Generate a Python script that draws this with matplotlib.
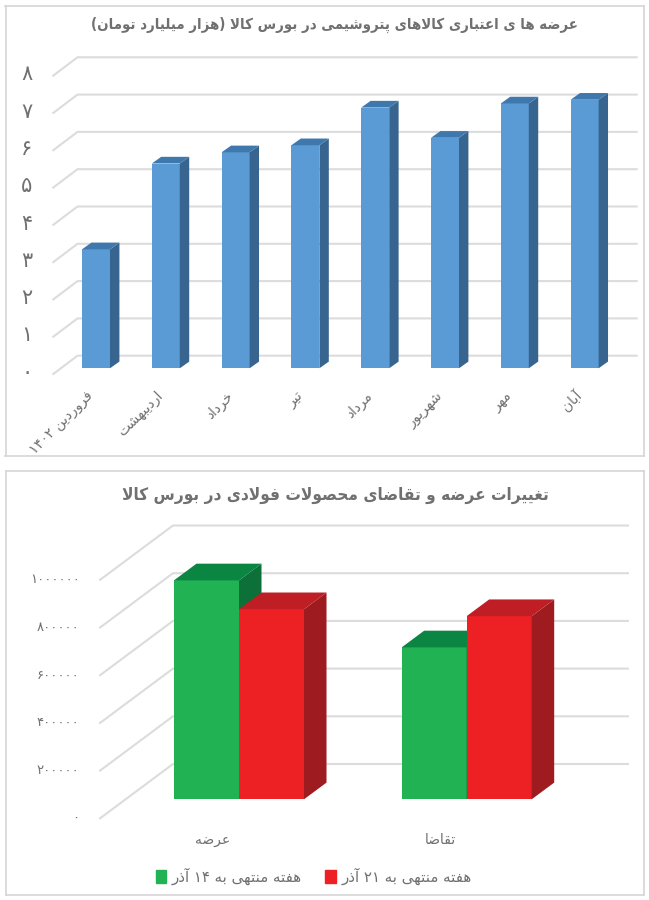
import matplotlib
matplotlib.use('Agg')
import matplotlib.pyplot as plt
from matplotlib.patches import Patch

plt.rcParams['font.family'] = ['DejaVu Sans']

# chart 1
title1 = 'عرضه ها ی اعتباری کالاهای پتروشیمی در بورس کالا (هزار میلیارد تومان)'
months = ['فروردین ۱۴۰۲', 'اردیبهشت', 'خرداد', 'تیر', 'مرداد', 'شهریور', 'مهر', 'آبان']
credit = [3.19, 5.49, 5.79, 5.98, 6.99, 6.18, 7.10, 7.20]
ticks1 = [0, 1, 2, 3, 4, 5, 6, 7, 8]

# chart 2
title2 = 'تغییرات عرضه و تقاضای محصولات فولادی در بورس کالا'
sides = ['عرضه', 'تقاضا']
week14 = [918000, 637000]
week21 = [797000, 768000]
name14 = 'هفته منتهی به ۱۴ آذر'
name21 = 'هفته منتهی به ۲۱ آذر'
ticks2 = [0, 200000, 400000, 600000, 800000, 1000000]

GREY = '#707070'
GRID = '#dcdcdc'

# matplotlib does no arabic shaping, so pick the presentation forms here
# letter: first codepoint, number of forms (isolated, final, initial, medial)
FORMS = {
    'ا': (0xFE8D, 2), 'آ': (0xFE81, 2), 'ب': (0xFE8F, 4), 'پ': (0xFB56, 4),
    'ت': (0xFE95, 4), 'ح': (0xFEA1, 4), 'خ': (0xFEA5, 4), 'د': (0xFEA9, 2),
    'ذ': (0xFEAB, 2), 'ر': (0xFEAD, 2), 'ز': (0xFEAF, 2), 'س': (0xFEB1, 4),
    'ش': (0xFEB5, 4), 'ص': (0xFEB9, 4), 'ض': (0xFEBD, 4), 'ع': (0xFEC9, 4),
    'غ': (0xFECD, 4), 'ف': (0xFED1, 4), 'ق': (0xFED5, 4), 'ک': (0xFB8E, 4),
    'ل': (0xFEDD, 4), 'م': (0xFEE1, 4), 'ن': (0xFEE5, 4), 'ه': (0xFEE9, 4),
    'و': (0xFEED, 2), 'ی': (0xFBFC, 4),
}
DIGITS = '۰۱۲۳۴۵۶۷۸۹'


def fa_digits(n):
    return ''.join(DIGITS[int(c)] for c in str(n))


def shape(text):
    out = []
    i = 0
    joined = False
    while i < len(text):
        c = text[i]
        if c == 'ل' and i + 1 < len(text) and text[i + 1] == 'ا':
            out.append(chr(0xFEFC if joined else 0xFEFB))
            joined = False
            i += 2
            continue
        if c not in FORMS:
            out.append(c)
            joined = False
            i += 1
            continue
        base, n = FORMS[c]
        next_ok = i + 1 < len(text) and text[i + 1] in FORMS and n == 4
        if joined and next_ok:
            form = 3
        elif next_ok:
            form = 2
        elif joined:
            form = 1
        else:
            form = 0
        out.append(chr(base + form))
        joined = next_ok
        i += 1
    # visual order, digit runs stay left to right
    res = []
    run = ''
    for c in reversed(out):
        if c in DIGITS:
            run = c + run
            continue
        res.append(run)
        run = ''
        res.append({'(': ')', ')': '('}.get(c, c))
    res.append(run)
    return ''.join(res)


def bar3d(ax, x, h, w, dx, dy, front, side, top):
    ax.bar(x, h, w, color=front, zorder=3)
    r = x + w / 2
    l = x - w / 2
    ax.fill([r, r + dx, r + dx, r], [0, dy, h + dy, h], color=side, lw=0, zorder=3)
    ax.fill([l, l + dx, r + dx, r], [h, h + dy, h + dy, h], color=top, lw=0, zorder=3)


def walls(ax, ticks, x_front, x_back, x_right, y_front, y_back):
    for t in ticks:
        ax.plot([x_front, x_back, x_right], [t + y_front, t + y_back, t + y_back],
                color=GRID, lw=1.5, zorder=1, solid_joinstyle='miter')


def frame(ax, xlim, ylim):
    ax.set_xlim(*xlim)
    ax.set_ylim(*ylim)
    ax.set_xticks([])
    ax.set_yticks([])
    for s in ax.spines.values():
        s.set_color('#d6d6d6')
        s.set_linewidth(1.2)


fig = plt.figure(figsize=(6.49, 9.0), dpi=100, facecolor='white')
W, H = 649, 900

# top chart
ax1 = fig.add_axes([5.5 / W, 1 - 456 / H, 638.5 / W, 450 / H])
frame(ax1, (-1.2966, 7.851), (-2.351, 9.713))
walls(ax1, ticks1, -0.612, -0.265, 7.746, -0.153, 0.338)
for i, v in enumerate(credit):
    bar3d(ax1, i, v, 0.401, 0.135, 0.18, '#5b9bd5', '#38658f', '#3f78ac')
for t in ticks1:
    ax1.text(-0.99, t - 0.12, fa_digits(t), ha='center', va='center', fontsize=15, color=GREY)
for i, m in enumerate(months):
    ax1.text(i - 0.07, -0.68, shape(m), rotation=45, rotation_mode='anchor',
             ha='right', va='center', fontsize=10, color=GREY)
ax1.text(0.5145, 0.957, shape(title1), transform=ax1.transAxes, ha='center', va='center',
         fontsize=10.7, fontweight='bold', fontstretch='condensed', color=GREY)

# bottom chart
ax2 = fig.add_axes([5.5 / W, 1 - 895 / H, 638.5 / W, 424 / H])
frame(ax2, (-1.0255, 1.7787), (-401258, 1376520))
walls(ax2, ticks2, -0.61, -0.29, 1.708, -79660, 148000)
bw = 0.2855
for i in range(len(sides)):
    bar3d(ax2, i - bw / 2, week14[i], bw, 0.0988, 70000, '#21b254', '#0c7038', '#0a8542')
    bar3d(ax2, i + bw / 2, week21[i], bw, 0.0988, 70000, '#ed2024', '#9e1b1f', '#be1e24')
for t in ticks2:
    ax2.text(-0.70, t - 79660, fa_digits(t), ha='right', va='center', fontsize=9.5, color=GREY)
for i, s in enumerate(sides):
    ax2.text(i - 0.115, -172000, shape(s), ha='center', va='center', fontsize=10, color=GREY)
ax2.text(0.516, 0.943, shape(title2), transform=ax2.transAxes, ha='center', va='center',
         fontsize=12.3, fontweight='bold', fontstretch='condensed', color=GREY)
ax2.legend(handles=[Patch(color='#21b254', label=shape(name14)),
                    Patch(color='#ed2024', label=shape(name21))],
           loc='center', bbox_to_anchor=(0.4825, 0.0445), ncols=2, frameon=False,
           fontsize=10.8, labelcolor=GREY, handlelength=0.72, handleheight=1.0,
           handletextpad=0.35, columnspacing=1.57)

fig.savefig('out.png', dpi=100, facecolor='white')
